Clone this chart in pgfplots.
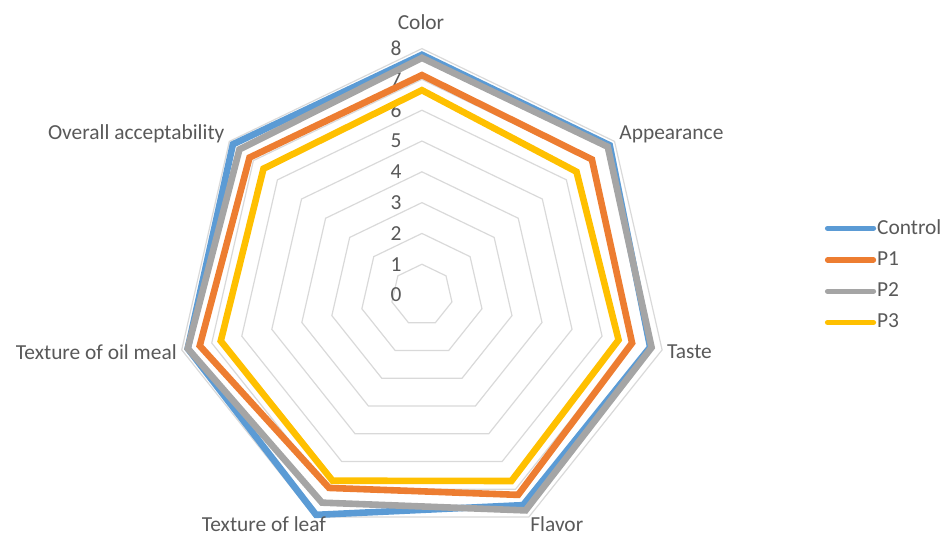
\documentclass[border=0pt]{standalone}
\usepackage{pgfplots}
\pgfplotsset{compat=1.18}
\usepackage{fontspec}
\setmainfont{Carlito}
\definecolor{cctrl}{HTML}{5B9BD5}
\definecolor{cpone}{HTML}{ED7D31}
\definecolor{cptwo}{HTML}{A5A5A5}
\definecolor{cpthree}{HTML}{FFC000}
\definecolor{ctext}{HTML}{595959}
\definecolor{cgrid}{HTML}{D9D9D9}
% angles: Color 90, Appearance 38.5714, Taste -12.8571, Flavor -64.2857,
% Texture of leaf -115.7143, Texture of oil meal -167.1429, Overall acceptability 141.4286
\begin{document}
\begin{tikzpicture}
\begin{axis}[
  scale only axis, width=471.5pt, height=267.5pt,
  xmin=-13.70, xmax=16.92, ymin=-7.79, ymax=9.578,
  axis lines=none, xtick=\empty, ytick=\empty, clip=false,
  font=\fontsize{10.7}{12}\selectfont,
  legend style={draw=none, fill=none, at={(rel axis cs:0.868,0.602)}, anchor=north west,
    font=\fontsize{10.7}{12}\selectfont, text=ctext, row sep=5.2pt,
    nodes={inner xsep=0.5pt, inner ysep=1pt}},
  legend cell align=left,
  legend image code/.code={\draw[#1, line width=2.6pt, line cap=round] (0pt,0pt) -- (23pt,0pt);},
  every axis plot/.append style={line join=miter},
]
\pgfplotsinvokeforeach{1,2,3,4,5,6,7,8}{
  \addplot[cgrid, line width=0.6pt, data cs=polar, forget plot] coordinates
  {(90,#1) (38.5714,#1) (-12.8571,#1) (-64.2857,#1) (-115.7143,#1) (-167.1429,#1) (141.4286,#1)} -- cycle;
}
\pgfplotsinvokeforeach{0,1,2,3,4,5,6,7,8}{
  \node[text=ctext, anchor=center] at (axis cs:-0.84,#1) {#1};
}
% Control
\addplot[cctrl, line width=3.3pt, data cs=polar] coordinates
  {(90,7.80) (38.5714,7.80) (-12.8571,7.60) (-64.2857,7.57) (-115.7143,7.92) (-167.1429,7.80) (141.4286,7.85)} -- cycle;
\addlegendentry{Control}
% P1
\addplot[cpone, line width=3.3pt, data cs=polar] coordinates
  {(90,7.14) (38.5714,7.06) (-12.8571,7.00) (-64.2857,7.20) (-115.7143,6.95) (-167.1429,7.40) (141.4286,7.16)} -- cycle;
\addlegendentry{P1}
% P2
\addplot[cptwo, line width=3.3pt, data cs=polar] coordinates
  {(90,7.70) (38.5714,7.72) (-12.8571,7.65) (-64.2857,7.76) (-115.7143,7.48) (-167.1429,7.80) (141.4286,7.58)} -- cycle;
\addlegendentry{P2}
% P3
\addplot[cpthree, line width=3.3pt, data cs=polar] coordinates
  {(90,6.65) (38.5714,6.42) (-12.8571,6.55) (-64.2857,6.70) (-115.7143,6.69) (-167.1429,6.70) (141.4286,6.58)} -- cycle;
\addlegendentry{P3}
% category labels
\node[text=ctext, anchor=center] at (axis cs:-0.03,8.86) {Color};
\node[text=ctext, anchor=west, inner xsep=0pt] at (axis cs:6.40,5.22) {Appearance};
\node[text=ctext, anchor=west, inner xsep=0pt] at (axis cs:7.95,-1.85) {Taste};
\node[text=ctext, anchor=center] at (axis cs:4.38,-7.44) {Flavor};
\node[text=ctext, anchor=center] at (axis cs:-5.13,-7.44) {Texture of leaf};
\node[text=ctext, anchor=east, inner xsep=0pt] at (axis cs:-7.95,-1.85) {Texture of oil meal};
\node[text=ctext, anchor=east, inner xsep=0pt] at (axis cs:-6.40,5.22) {Overall acceptability};
\end{axis}
\pgfresetboundingbox
\path (current axis.south west) rectangle (current axis.north east);
\end{tikzpicture}
\end{document}
